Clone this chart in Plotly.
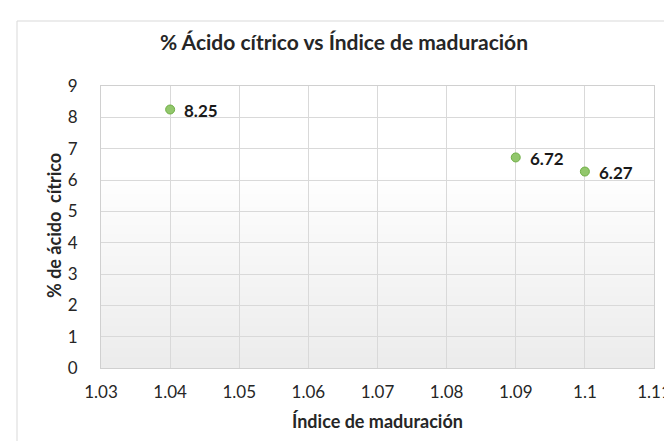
import base64
import struct
import zlib
import plotly.graph_objects as go

indice = [1.04, 1.09, 1.10]
acido = [8.25, 6.72, 6.27]
labels = ["8.25", "6.72", "6.27"]
x_ticks = [1.03, 1.04, 1.05, 1.06, 1.07, 1.08, 1.09, 1.10, 1.11]
x_ticktext = ["1.03", "1.04", "1.05", "1.06", "1.07", "1.08", "1.09", "1.1", "1.11"]
y_ticks = [0, 1, 2, 3, 4, 5, 6, 7, 8, 9]

X_RANGE = [1.03, 1.11]
Y_RANGE = [0, 9]

W, H = 672, 441
L, R, T, B = 93, 26, 78, 81
pw = W - L - R
ph = H - T - B


def px_x(p):
    return (p - L) / pw


def px_y(p):
    return (H - B - p) / ph


def gradient_png(top, bottom, n=64):
    # vertical gradient, 1 px wide, as a PNG data URI (background only)
    rows = b""
    for i in range(n):
        t = i / (n - 1)
        t = max(0.0, (t - 0.3) / 0.7)
        c = [round(top[k] + (bottom[k] - top[k]) * t) for k in range(3)]
        rows += b"\x00" + bytes(c)

    def chunk(tag, data):
        return struct.pack(">I", len(data)) + tag + data + struct.pack(">I", zlib.crc32(tag + data) & 0xffffffff)

    png = b"\x89PNG\r\n\x1a\n"
    png += chunk(b"IHDR", struct.pack(">IIBBBBB", 1, n, 8, 2, 0, 0, 0))
    png += chunk(b"IDAT", zlib.compress(rows))
    png += chunk(b"IEND", b"")
    return "data:image/png;base64," + base64.b64encode(png).decode()


FONT = "Lato, 'Open Sans', sans-serif"

fig = go.Figure()

fig.add_trace(go.Scatter(
    x=indice, y=acido, mode="markers",
    marker=dict(size=9, color="#92c76c", line=dict(color="#6fae45", width=1)),
    showlegend=False,
))

data_labels = [
    dict(text="<b>%s</b>" % t, x=xv, y=yv, xref="x", yref="y",
         xanchor="left", yanchor="middle", xshift=12, yshift=-1, showarrow=False,
         font=dict(family=FONT, size=17, color="#1a1a1a"))
    for xv, yv, t in zip(indice, acido, labels)
]

fig.update_layout(
    width=W, height=H,
    margin=dict(l=L, r=R, t=T, b=B, autoexpand=False),
    paper_bgcolor="white", plot_bgcolor="rgba(0,0,0,0)",
    font=dict(family=FONT, color="#404040"),
    title=dict(text="<b>% Ácido cítrico vs Índice de maduración</b>",
               x=0.5, xref="container", xanchor="center",
               y=1 - 35 / H, yref="container", yanchor="middle",
               font=dict(family=FONT, size=21, color="#262626")),
    xaxis=dict(range=X_RANGE, tickvals=x_ticks, ticktext=x_ticktext,
               showgrid=True, gridcolor="#d9d9d9", gridwidth=1,
               zeroline=False, showline=True, linecolor="#d0d0d0", mirror=True,
               ticks="", ticklabelstandoff=9,
               tickfont=dict(family=FONT, size=17, color="#262626")),
    yaxis=dict(range=Y_RANGE, tickvals=y_ticks,
               showgrid=True, gridcolor="#d9d9d9", gridwidth=1,
               zeroline=False, showline=True, linecolor="#d0d0d0", mirror=True,
               ticks="", ticklabelstandoff=19,
               tickfont=dict(family=FONT, size=17, color="#262626")),
    images=[dict(source=gradient_png((255, 255, 255), (236, 236, 236)),
                 xref="paper", yref="paper", x=0, y=1, sizex=1, sizey=1,
                 xanchor="left", yanchor="top", sizing="stretch", layer="below")],
    annotations=data_labels + [
        dict(text="<b>Índice de maduración</b>", xref="paper", yref="paper",
             x=px_x(369), y=px_y(413), xanchor="center", yanchor="middle",
             showarrow=False, font=dict(family=FONT, size=18, color="#262626")),
        dict(text="<b>% de ácido  cítrico</b>", xref="paper", yref="paper",
             x=px_x(46), y=px_y(218), xanchor="center", yanchor="middle",
             textangle=-90, showarrow=False,
             font=dict(family=FONT, size=18, color="#262626")),
    ],
    shapes=[
        dict(type="line", xref="paper", yref="paper",
             x0=px_x(9), y0=px_y(13), x1=px_x(W + 5), y1=px_y(13),
             line=dict(color="#d9d9d9", width=1)),
        dict(type="line", xref="paper", yref="paper",
             x0=px_x(9), y0=px_y(13), x1=px_x(9), y1=px_y(H + 5),
             line=dict(color="#d9d9d9", width=1)),
    ],
)

fig.write_html("out.html")
